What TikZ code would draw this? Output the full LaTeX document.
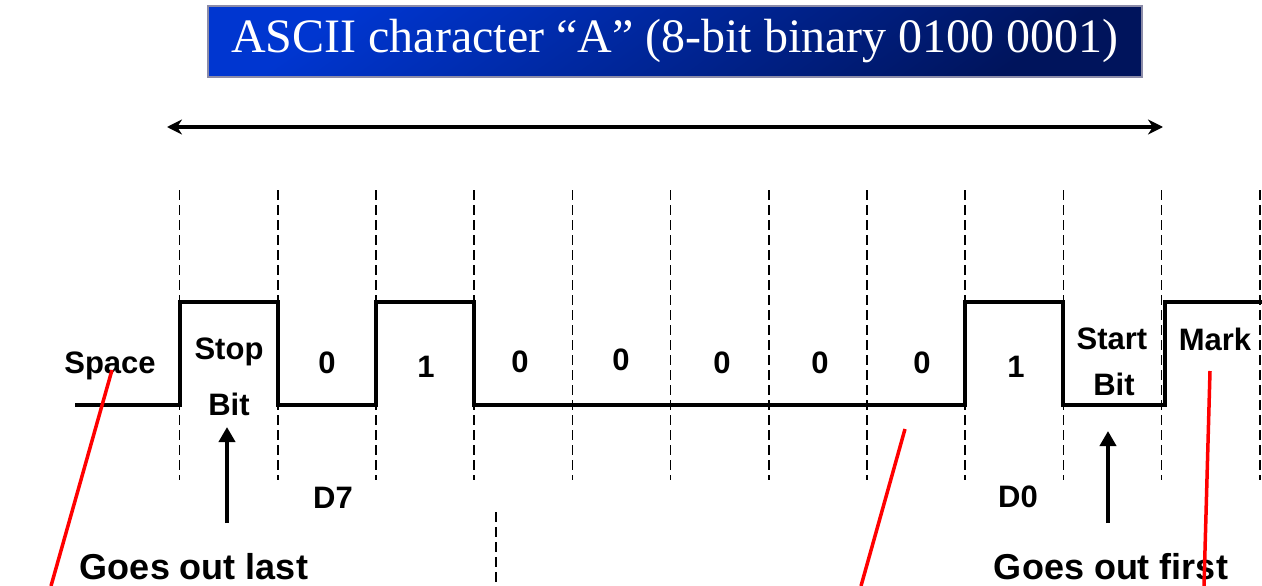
\documentclass[tikz,border=0pt]{standalone}
\usepackage{fontspec}
\setmainfont{Liberation Serif}
\setsansfont{Liberation Sans}
\usetikzlibrary{arrows.meta,positioning}
\definecolor{titletop}{HTML}{0036D0}
\definecolor{titlebot}{HTML}{00145C}
\definecolor{titleedge}{HTML}{8C8CA8}

\begin{document}
\begin{tikzpicture}[x=1pt, y=-1pt]
\tikzstyle{title} = [rectangle, draw=titleedge, line width=1.5pt, top color=titletop, bottom color=titlebot, shading angle=35, minimum width=934pt, minimum height=71pt, text=white, font=\rmfamily\fontsize{48}{48}\selectfont]
\tikzstyle{bitlabel} = [font=\sffamily\bfseries\fontsize{31}{31}\selectfont, inner sep=0pt]
\tikzstyle{note} = [font=\sffamily\bfseries\fontsize{36}{36}\selectfont, inner sep=0pt]
\tikzstyle{grid} = [line width=1.6pt, dash pattern=on 10pt off 5pt]
\tikzstyle{wave} = [line width=4pt, line join=miter]
\tikzstyle{arrow} = [line width=4pt, -{Triangle[length=15pt, width=16pt]}]
\tikzstyle{pointer} = [line width=3.5pt, red]

\useasboundingbox (0,0) rectangle (1262,586);

% title
\node[title] (head) at (675,41.5) {ASCII character “A” (8-bit binary 0100 0001)};

% frame width
\coordinate (fl) at (167,127);
\coordinate (fr) at (1163,127);
\draw[line width=3.5pt, {Stealth[length=15pt, width=15pt]}-{Stealth[length=15pt, width=15pt]}] (fl) -- (fr);

% bit boundaries
\foreach \i in {0,...,11}
  \draw[grid] ({179.5+98.2*\i},190) -- ++(0,290);
\draw[grid] (496,512) -- (496,586);

% signal
\draw[wave] (75,405) -- (179.5,405) -- (179.5,301.5) -- (278,301.5) -- (278,405)
  -- (376,405) -- (376,301.5) -- (474,301.5) -- (474,405) -- (965,405)
  -- (965,301.5) -- (1063,301.5) -- (1063,405) -- (1165,405) -- (1165,301.5) -- (1262,301.5);

% labels
\node[bitlabel] (space) at (110,366) {Space};
\node[bitlabel] (stop) at (229,352) {Stop};
\node[bitlabel] (stopbit) at (229,404) {Bit};
\foreach \x/\y/\t [count=\n] in {327/363/0, 426/367/1, 520/362/0, 621/360/0, 722/363/0, 820/363/0, 922/363/0, 1016/367/1}
  \node[bitlabel] (bit\n) at (\x,\y) {\t};
\node[bitlabel] (start) at (1112,339) {Start};
\node[bitlabel] (startbit) at (1114,384) {Bit};
\node[bitlabel] (mark) at (1215,339) {Mark};
\node[bitlabel, font=\sffamily\bfseries\fontsize{31}{31}\selectfont] (d7) at (333,498) {D7};
\node[bitlabel, font=\sffamily\bfseries\fontsize{31}{31}\selectfont] (d0) at (1018,497) {D0};
\node[note] (last) at (194,567) {Goes out last};
\node[note] (first) at (1111,567) {Goes out first};

% arrows
\coordinate (lastup) at (227,523);
\coordinate (lasttip) at (227,427);
\coordinate (firstup) at (1108,523);
\coordinate (firsttip) at (1108,431);
\draw[arrow] (lastup) -- (lasttip);
\draw[arrow] (firstup) -- (firsttip);

% red pointers
\coordinate (p1) at (112,370);
\coordinate (q1) at (51,586);
\coordinate (p2) at (905,429);
\coordinate (q2) at (861,586);
\coordinate (p3) at (1210,371);
\coordinate (q3) at (1204,586);
\draw[pointer] (p1) -- (q1);
\draw[pointer] (p2) -- (q2);
\draw[pointer] (p3) -- (q3);
\end{tikzpicture}
\end{document}
